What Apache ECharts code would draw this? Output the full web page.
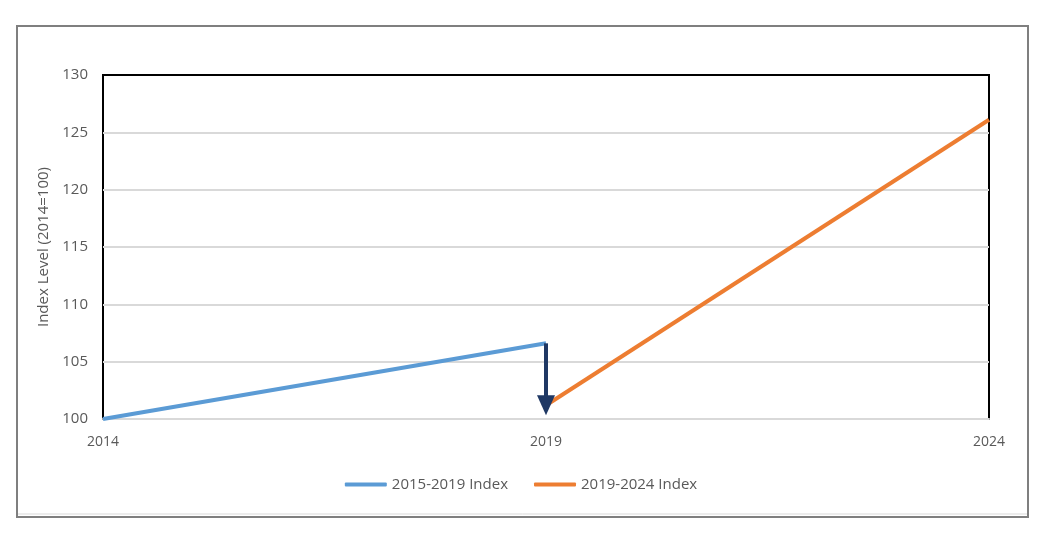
<!DOCTYPE html>
<html>
<head>
<meta charset="utf-8">
<script src="https://cdn.jsdelivr.net/npm/echarts@6/dist/echarts.min.js"></script>
<style>
html,body{margin:0;padding:0;background:#fff;}
#main{width:1042px;height:537px;}
</style>
</head>
<body>
<div id="main"></div>
<script>
// data
var baseYear = 2014;
var years1 = [2014, 2019];
var index1 = [100, 106.6];
var years2 = [2019, 2024];
var index2 = [101.2, 126.1];
// arrow from end of first index down to start of second
var arrowYear = 2019;
var arrowFrom = 106.6;
var arrowTo = 101.2;

var seriesNames = ['2015-2019 Index', '2019-2024 Index'];

function toPoints(xs, ys){
    var out = [];
    for (var i = 0; i < xs.length; i++) {
        out.push([xs[i] - baseYear, ys[i]]);
    }
    return out;
}

var chart = echarts.init(document.getElementById('main'));
var font = '"Open Sans", sans-serif';
var option = {
    animation: false,
    backgroundColor: '#fff',
    textStyle: { fontFamily: font },
    graphic: [
        {
            type: 'rect',
            shape: { x: 17, y: 26, width: 1011, height: 491 },
            style: { fill: 'none', stroke: '#7f7f7f', lineWidth: 2 },
            z: 0
        },
        {
            type: 'line',
            shape: { x1: 18, y1: 514, x2: 1027, y2: 514 },
            style: { stroke: '#d9d9d9', lineWidth: 1 }
        }
    ],
    grid: {
        left: 103, right: 53, top: 75, bottom: 118,
        show: true, borderColor: '#000', borderWidth: 2
    },
    legend: {
        bottom: 40,
        left: 'center',
        itemWidth: 42,
        itemHeight: 4,
        itemGap: 26,
        icon: 'roundRect',
        textStyle: { color: '#595959', fontSize: 15, fontFamily: font },
        data: seriesNames
    },
    xAxis: [
        {
            type: 'value',
            min: 0, max: 10, interval: 5,
            axisLine: { show: true, lineStyle: { color: '#d9d9d9', width: 2 } },
            axisTick: { show: false },
            splitLine: { show: false },
            axisLabel: {
                color: '#595959', fontSize: 14, margin: 16,
                formatter: function(v){ return String(v + baseYear); }
            }
        },
        {
            // top frame edge, drawn over the 130 gridline
            type: 'value',
            position: 'top',
            min: 0, max: 10, interval: 5,
            axisLine: { show: true, lineStyle: { color: '#000', width: 2 } },
            axisTick: { show: false },
            axisLabel: { show: false },
            splitLine: { show: false }
        }
    ],
    yAxis: {
        type: 'value',
        min: 100, max: 130, interval: 5,
        name: 'Index Level (2014=100)',
        nameLocation: 'middle',
        nameGap: 50,
        nameTextStyle: { color: '#595959', fontSize: 15 },
        axisLine: { show: false },
        axisTick: { show: false },
        splitLine: { lineStyle: { color: '#d9d9d9', width: 2 } },
        axisLabel: { color: '#595959', fontSize: 15, margin: 15 }
    },
    series: [
        {
            name: seriesNames[0],
            type: 'line',
            data: toPoints(years1, index1),
            symbol: 'none',
            lineStyle: { color: '#5B9BD5', width: 4 },
            itemStyle: { color: '#5B9BD5' },
            z: 3
        },
        {
            name: seriesNames[1],
            type: 'line',
            data: toPoints(years2, index2),
            symbol: 'none',
            lineStyle: { color: '#ED7D31', width: 4 },
            itemStyle: { color: '#ED7D31' },
            z: 2,
            markLine: {
                silent: true,
                symbol: ['none', 'triangle'],
                symbolSize: [18, 20],
                label: { show: false },
                lineStyle: { color: '#1F3864', width: 4, type: 'solid' },
                data: [[
                    { coord: [arrowYear - baseYear, arrowFrom] },
                    { coord: [arrowYear - baseYear, arrowTo] }
                ]]
            }
        }
    ]
};
chart.setOption(option);
</script>
</body>
</html>
